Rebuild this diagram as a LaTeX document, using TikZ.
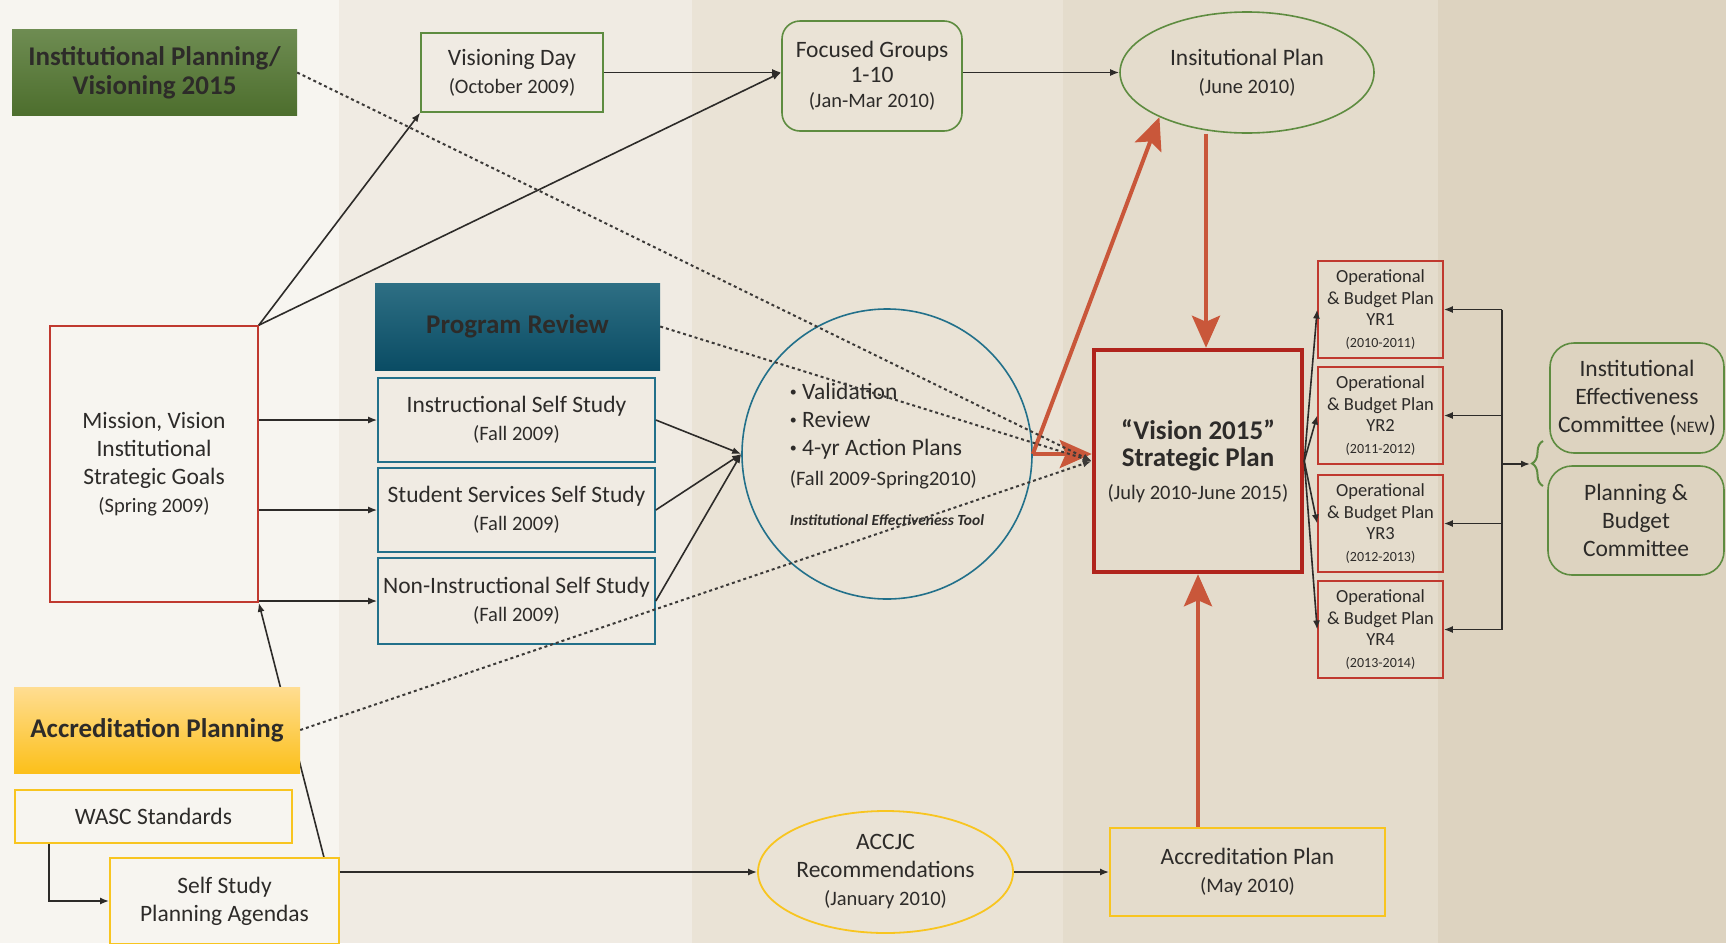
\documentclass[tikz,border=0pt]{standalone}
\usepackage{fontspec}
\setmainfont{Carlito}
\usetikzlibrary{arrows.meta,shapes.geometric,calc,decorations.pathreplacing}
\tikzset{>={Latex[width=7pt,length=9pt]}}
\definecolor{ink}{HTML}{2D2B29}
\definecolor{bandA}{HTML}{F7F5F0}
\definecolor{bandB}{HTML}{F0EBE3}
\definecolor{bandC}{HTML}{EAE3D6}
\definecolor{bandD}{HTML}{E4DCCC}
\definecolor{bandE}{HTML}{DDD3C0}
\definecolor{leaf}{HTML}{5E8C40}
\definecolor{brick}{HTML}{C0392F}
\definecolor{darkbrick}{HTML}{B0241C}
\definecolor{sea}{HTML}{22708A}
\definecolor{gold}{HTML}{F8C520}
\definecolor{rust}{HTML}{C9573A}
\definecolor{dotgray}{HTML}{3C3A38}
\definecolor{leafTop}{HTML}{6E8C52}
\definecolor{leafBot}{HTML}{4D6E2D}
\definecolor{goldTop}{HTML}{FFDD92}
\definecolor{goldMid}{HTML}{FFD778}
\definecolor{goldBot}{HTML}{FCC01A}
\definecolor{seaTop}{HTML}{2E6F84}
\definecolor{seaMid}{HTML}{4A8596}
\definecolor{seaBot}{HTML}{0A4C64}
\newcommand{\SUB}[1]{{\fontsize{20.5}{23}\selectfont #1}}
\newcommand{\TINY}[1]{{\fontsize{14}{16}\selectfont #1}}
\newcommand{\DOT}{{\fontsize{14}{14}\selectfont\raisebox{2.5pt}{\textbullet}}\ }
\pgfdeclarelayer{back}
\pgfdeclarelayer{mid}
\pgfsetlayers{back,mid,main}

\begin{document}
\begin{tikzpicture}[x=1pt,y=-1pt,
  every node/.style={text=ink, align=center, inner sep=0pt,
    font=\fontsize{23.5}{28}\selectfont},
  greenbox/.style={draw=leaf, line width=1.6pt},
  redbox/.style={draw=brick, line width=1.6pt},
  seabox/.style={draw=sea, line width=1.6pt},
  goldbox/.style={draw=gold, line width=1.8pt},
  headbox/.style={minimum width=285pt, minimum height=86pt,
    font=\bfseries\fontsize{27}{29}\selectfont},
  opbox/.style={redbox, minimum width=125pt, minimum height=97pt,
    font=\fontsize{18.5}{21.5}\selectfont},
  flow/.style={->, draw=ink, line width=1.6pt},
  dots/.style={->, draw=dotgray, line width=2pt,
    dash pattern=on 3pt off 3pt},
  bigred/.style={-{Stealth[length=32pt,width=28pt,inset=6pt]},
    draw=rust, line width=4pt}]

  \useasboundingbox (0,0) rectangle (1726,943);
  \begin{pgfonlayer}{back}
    \fill[bandA] (0,0) rectangle (339,943);
    \fill[bandB] (339,0) rectangle (692,943);
    \fill[bandC] (692,0) rectangle (1063,943);
    \fill[bandD] (1063,0) rectangle (1438,943);
    \fill[bandE] (1438,0) rectangle (1726,943);
  \end{pgfonlayer}

  %% left column
  \node[headbox, top color=leafTop, bottom color=leafBot]
    (ipv) at (154.5,72.5) {Institutional Planning/\\Visioning 2015};
  \node[redbox, minimum width=208pt, minimum height=276pt]
    (mvg) at (154,464) {Mission, Vision\\Institutional\\Strategic Goals\\
    \SUB{(Spring 2009)}};
  \node[headbox, minimum width=286pt, top color=goldTop,
    middle color=goldMid, bottom color=goldBot]
    (acp) at (157,730) {Accreditation Planning};
  \node[goldbox, minimum width=277pt, minimum height=53pt]
    (wasc) at (153.5,816.5) {WASC Standards};
  \node[goldbox, minimum width=229pt, minimum height=86pt]
    (ss) at (224.5,901) {Self Study\\Planning Agendas};

  %% program review
  \node[draw=none, minimum width=285pt, minimum height=87pt,
    font=\bfseries\fontsize{27}{29}\selectfont, top color=seaTop,
    middle color=seaMid, bottom color=seaBot]
    (pr) at (517.5,326.5) {Program Review};
  \node[seabox, minimum width=277pt, minimum height=84pt]
    (iss) at (516.5,420) {Instructional Self Study\\\SUB{(Fall 2009)}};
  \node[seabox, minimum width=277pt, minimum height=84pt]
    (sss) at (516.5,510) {Student Services Self Study\\\SUB{(Fall 2009)}};
  \node[seabox, minimum width=277pt, minimum height=86pt]
    (nis) at (516.5,601) {Non-Instructional Self Study\\\SUB{(Fall 2009)}};
  \node[seabox, circle, minimum size=290pt, align=left,
    font=\fontsize{23.5}{28}\selectfont] (val) at (887,454)
    {\DOT Validation\\\DOT Review\\
     \DOT 4-yr Action Plans\\[2pt]
     \SUB{(Fall 2009-Spring2010)}\\[12pt]
     {\fontsize{15.5}{17}\selectfont\bfseries\itshape
      Institutional Effectiveness Tool}};

  %% top row
  \node[greenbox, minimum width=182pt, minimum height=79pt]
    (vd) at (512,72.5) {Visioning Day\\\SUB{(October 2009)}};
  \node[greenbox, rounded corners=18pt, minimum width=180pt,
    minimum height=110pt, font=\fontsize{23.5}{25}\selectfont]
    (fg) at (872,76) {Focused Groups\\1-10\\\SUB{(Jan-Mar 2010)}};
  \node[greenbox, ellipse, minimum width=254pt, minimum height=121pt]
    (ip) at (1247,72.5) {Insitutional Plan\\\SUB{(June 2010)}};

  %% bottom row
  \node[goldbox, ellipse, minimum width=255pt, minimum height=122pt]
    (accjc) at (885.5,872) {ACCJC\\Recommendations\\\SUB{(January 2010)}};
  \node[goldbox, minimum width=275pt, minimum height=88pt]
    (ap) at (1247.5,872) {Accreditation Plan\\\SUB{(May 2010)}};

  %% strategic plan and yearly plans
  \node[draw=darkbrick, line width=4.5pt, minimum width=208pt,
    minimum height=222pt, font=\bfseries\fontsize{27}{27}\selectfont]
    (sp) at (1198,461) {“Vision 2015”\\Strategic Plan\\[6pt]
    \SUB{\mdseries(July 2010-June 2015)}};
  \node[opbox] (op1) at (1380.5,309.5)
    {Operational\\\& Budget Plan\\YR1\\\TINY{(2010-2011)}};
  \node[opbox] (op2) at (1380.5,415.5)
    {Operational\\\& Budget Plan\\YR2\\\TINY{(2011-2012)}};
  \node[opbox] (op3) at (1380.5,523.5)
    {Operational\\\& Budget Plan\\YR3\\\TINY{(2012-2013)}};
  \node[opbox] (op4) at (1380.5,629.5)
    {Operational\\\& Budget Plan\\YR4\\\TINY{(2013-2014)}};

  %% committees
  \node[greenbox, rounded corners=24pt, minimum width=174pt,
    minimum height=110pt] (iec) at (1637,398)
    {Institutional\\Effectiveness\\Committee
     ({\fontsize{16}{16}\selectfont NEW})};
  \node[greenbox, rounded corners=24pt, minimum width=176pt,
    minimum height=109pt] (pbc) at (1636,520.5)
    {Planning \&\\Budget\\Committee};

  \coordinate (bus) at (1502,0);
  \coordinate (brc) at (1530,464);
  \coordinate (sptop) at ($(sp.north)+(8,0)$);

  %% connectors
  \draw[flow] (mvg.north east) -- (vd.south west);
  \draw[flow] (mvg.north east) -- (vd.east -| fg.west);
  \draw[flow] (vd.east) -- (vd.east -| fg.west);
  \draw[flow] (ip.west -| fg.east) -- (ip.west);

  \draw[flow] (iss.west -| mvg.east) -- (iss.west);
  \draw[flow] (sss.west -| mvg.east) -- (sss.west);
  \draw[flow] (nis.west -| mvg.east) -- (nis.west);
  \draw[flow] (iss.east) -- (val.west);
  \draw[flow] (sss.east) -- (val.west);
  \draw[flow] (nis.east) -- (val.west);

  \begin{pgfonlayer}{mid}
    \draw[flow] ([xshift=-16pt]ss.north east) -- (mvg.south east);
  \end{pgfonlayer}
  \draw[flow] ([xshift=35pt]wasc.south west) |- (ss.west);
  \draw[flow] (accjc.west -| ss.east) -- (accjc.west);
  \draw[flow] (accjc.east) -- (ap.west);

  \draw[bigred] (val.east) -- (val.east -| sp.west);
  \draw[bigred] (val.east) -- (ip.207);
  \draw[bigred] (sptop |- ip.south) -- (sptop);
  \draw[bigred] (ap.north -| sp.south) -- (sp.south);

  \draw[dots] (ipv.east) -- (sp.west);
  \draw[dots] (pr.east) -- (sp.west);
  \draw[dots] (acp.east) -- (sp.west);

  \draw[flow] (sp.east) -- (op1.west);
  \draw[flow] (sp.east) -- (op2.west);
  \draw[flow] (sp.east) -- (op3.west);
  \draw[flow] (sp.east) -- (op4.west);

  \draw[ink, line width=1.6pt] (bus |- op1.east) -- (bus |- op4.east);
  \draw[flow] (bus |- op1.east) -- (op1.east);
  \draw[flow] (bus |- op2.east) -- (op2.east);
  \draw[flow] (bus |- op3.east) -- (op3.east);
  \draw[flow] (bus |- op4.east) -- (op4.east);
  \draw[flow] (bus |- brc) -- (brc);
  \draw[leaf, line width=2pt, decorate,
    decoration={brace, amplitude=11pt}] (1543,486) -- (1543,441);

\end{tikzpicture}
\end{document}
